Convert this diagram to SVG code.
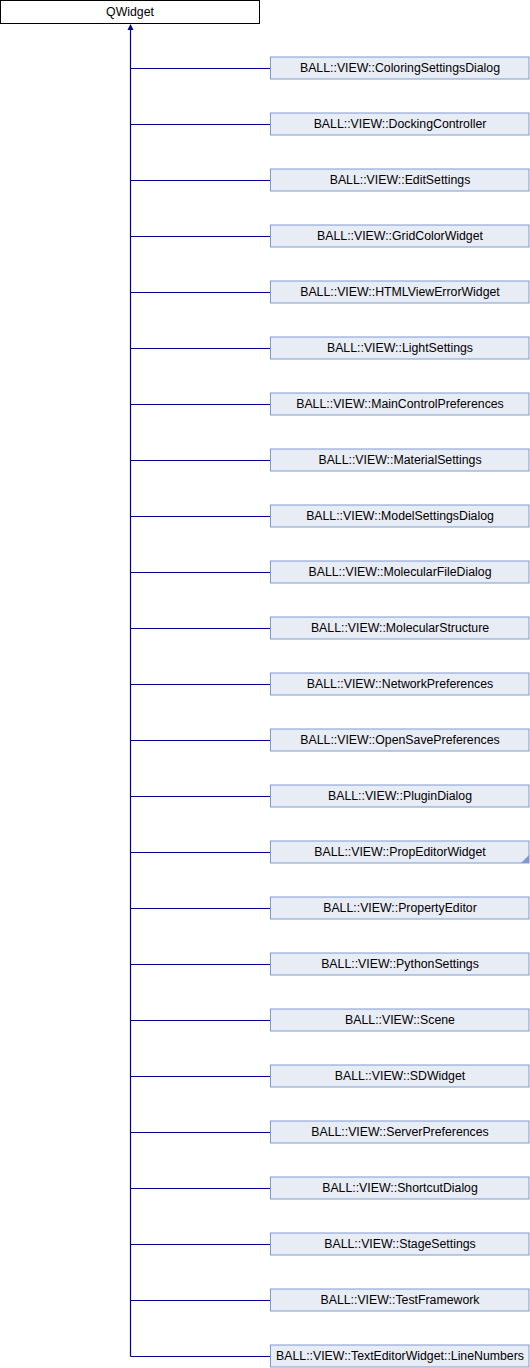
<svg xmlns="http://www.w3.org/2000/svg" width="530" height="1368" viewBox="0 0 530 1368">
  <defs>
    <style>
      .base { fill: #ffffff; stroke: #000000; stroke-width: 1; }
      .cls { fill: #e8ecf5; stroke: #7f9ad0; stroke-width: 1; }
      .lbl { font-family: "Liberation Sans", Arial, sans-serif; font-size: 12.3px; fill: #000000; text-anchor: middle; }
      .edge { fill: none; stroke: #000098; stroke-width: 1.2; }
    </style>
  </defs>
  <rect width="530" height="1368" fill="#ffffff"/>

  <!-- inheritance connectors -->
  <g id="connectors">
    <path class="edge" d="M130.5,28 V1356.5"/>
    <polygon points="130.5,24 127.5,30 133.5,30" fill="#000098"/>
    <path class="edge" d="M130.5,68.5 H270 M130.5,124.5 H270 M130.5,180.5 H270 M130.5,236.5 H270 M130.5,292.5 H270 M130.5,348.5 H270 M130.5,404.5 H270 M130.5,460.5 H270 M130.5,516.5 H270 M130.5,572.5 H270 M130.5,628.5 H270 M130.5,684.5 H270 M130.5,740.5 H270 M130.5,796.5 H270 M130.5,852.5 H270 M130.5,908.5 H270 M130.5,964.5 H270 M130.5,1020.5 H270 M130.5,1076.5 H270 M130.5,1132.5 H270 M130.5,1188.5 H270 M130.5,1244.5 H270 M130.5,1300.5 H270 M130.5,1356.5 H270"/>
  </g>

  <g id="QWidget">
    <rect class="base" x="0.5" y="0.5" width="259" height="23"/>
    <text class="lbl" x="130" y="16">QWidget</text>
  </g>

  <g id="ColoringSettingsDialog"><rect class="cls" x="270.5" y="57" width="258.5" height="22"/><text class="lbl" x="400" y="72">BALL::VIEW::ColoringSettingsDialog</text></g>
  <g id="DockingController"><rect class="cls" x="270.5" y="113" width="258.5" height="22"/><text class="lbl" x="400" y="128">BALL::VIEW::DockingController</text></g>
  <g id="EditSettings"><rect class="cls" x="270.5" y="169" width="258.5" height="22"/><text class="lbl" x="400" y="184">BALL::VIEW::EditSettings</text></g>
  <g id="GridColorWidget"><rect class="cls" x="270.5" y="225" width="258.5" height="22"/><text class="lbl" x="400" y="240">BALL::VIEW::GridColorWidget</text></g>
  <g id="HTMLViewErrorWidget"><rect class="cls" x="270.5" y="281" width="258.5" height="22"/><text class="lbl" x="400" y="296">BALL::VIEW::HTMLViewErrorWidget</text></g>
  <g id="LightSettings"><rect class="cls" x="270.5" y="337" width="258.5" height="22"/><text class="lbl" x="400" y="352">BALL::VIEW::LightSettings</text></g>
  <g id="MainControlPreferences"><rect class="cls" x="270.5" y="393" width="258.5" height="22"/><text class="lbl" x="400" y="408">BALL::VIEW::MainControlPreferences</text></g>
  <g id="MaterialSettings"><rect class="cls" x="270.5" y="449" width="258.5" height="22"/><text class="lbl" x="400" y="464">BALL::VIEW::MaterialSettings</text></g>
  <g id="ModelSettingsDialog"><rect class="cls" x="270.5" y="505" width="258.5" height="22"/><text class="lbl" x="400" y="520">BALL::VIEW::ModelSettingsDialog</text></g>
  <g id="MolecularFileDialog"><rect class="cls" x="270.5" y="561" width="258.5" height="22"/><text class="lbl" x="400" y="576">BALL::VIEW::MolecularFileDialog</text></g>
  <g id="MolecularStructure"><rect class="cls" x="270.5" y="617" width="258.5" height="22"/><text class="lbl" x="400" y="632">BALL::VIEW::MolecularStructure</text></g>
  <g id="NetworkPreferences"><rect class="cls" x="270.5" y="673" width="258.5" height="22"/><text class="lbl" x="400" y="688">BALL::VIEW::NetworkPreferences</text></g>
  <g id="OpenSavePreferences"><rect class="cls" x="270.5" y="729" width="258.5" height="22"/><text class="lbl" x="400" y="744">BALL::VIEW::OpenSavePreferences</text></g>
  <g id="PluginDialog"><rect class="cls" x="270.5" y="785" width="258.5" height="22"/><text class="lbl" x="400" y="800">BALL::VIEW::PluginDialog</text></g>
  <g id="PropEditorWidget"><rect class="cls" x="270.5" y="841" width="258.5" height="22"/><polygon points="529,855 529,863 521,863" fill="#7f9ad0"/><text class="lbl" x="400" y="856">BALL::VIEW::PropEditorWidget</text></g>
  <g id="PropertyEditor"><rect class="cls" x="270.5" y="897" width="258.5" height="22"/><text class="lbl" x="400" y="912">BALL::VIEW::PropertyEditor</text></g>
  <g id="PythonSettings"><rect class="cls" x="270.5" y="953" width="258.5" height="22"/><text class="lbl" x="400" y="968">BALL::VIEW::PythonSettings</text></g>
  <g id="Scene"><rect class="cls" x="270.5" y="1009" width="258.5" height="22"/><text class="lbl" x="400" y="1024">BALL::VIEW::Scene</text></g>
  <g id="SDWidget"><rect class="cls" x="270.5" y="1065" width="258.5" height="22"/><text class="lbl" x="400" y="1080">BALL::VIEW::SDWidget</text></g>
  <g id="ServerPreferences"><rect class="cls" x="270.5" y="1121" width="258.5" height="22"/><text class="lbl" x="400" y="1136">BALL::VIEW::ServerPreferences</text></g>
  <g id="ShortcutDialog"><rect class="cls" x="270.5" y="1177" width="258.5" height="22"/><text class="lbl" x="400" y="1192">BALL::VIEW::ShortcutDialog</text></g>
  <g id="StageSettings"><rect class="cls" x="270.5" y="1233" width="258.5" height="22"/><text class="lbl" x="400" y="1248">BALL::VIEW::StageSettings</text></g>
  <g id="TestFramework"><rect class="cls" x="270.5" y="1289" width="258.5" height="22"/><text class="lbl" x="400" y="1304">BALL::VIEW::TestFramework</text></g>
  <g id="LineNumbers"><rect class="cls" x="270.5" y="1345" width="258.5" height="22"/><text class="lbl" x="400" y="1360">BALL::VIEW::TextEditorWidget::LineNumbers</text></g>
</svg>
